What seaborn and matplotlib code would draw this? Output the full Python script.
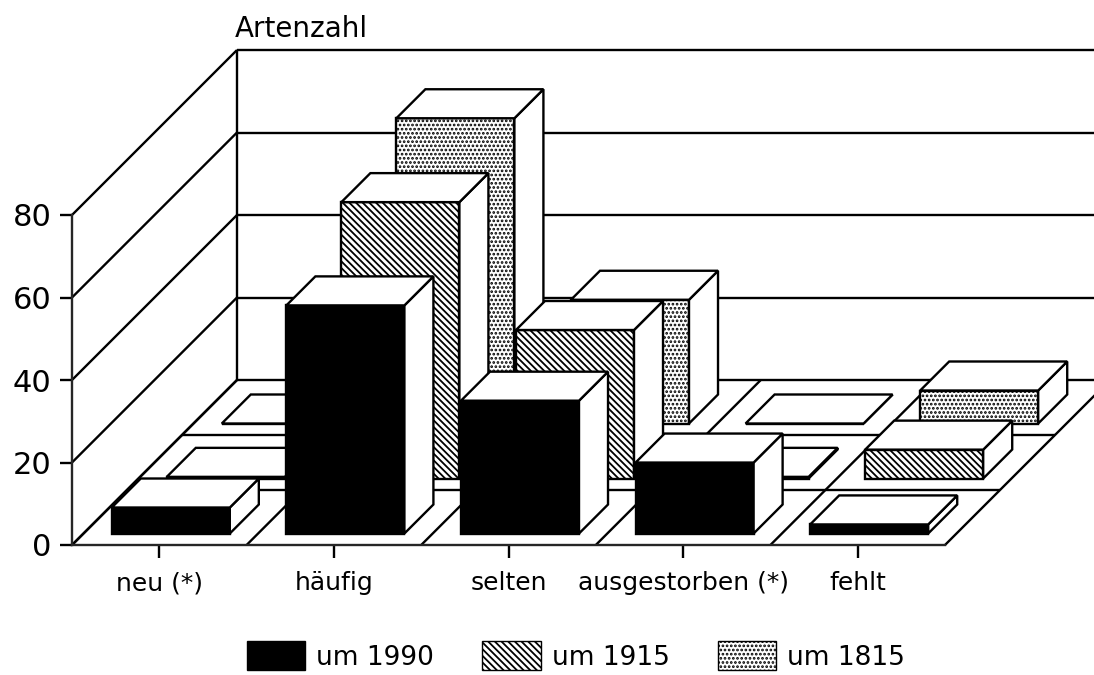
import matplotlib
matplotlib.use("Agg")
import matplotlib.pyplot as plt
from matplotlib.patches import Patch
import seaborn as sns

# Chart data
categories = ["neu (*)", "häufig", "selten", "ausgestorben (*)", "fehlt"]
values_1990 = [6.3, 55.3, 32.2, 17.2, 2.2]
values_1915 = [0.4, 67.0, 36.0, 0.4, 7.0]
values_1815 = [0.0, 74.0, 30.0, 0.0, 8.0]
y_ticks = [0, 20, 40, 60, 80]

# Pseudo 3D geometry, in pixels of the depth direction
PX_PER_CAT = 174.6
PX_PER_VALUE = 4.125
ROW_STEP = 55
ROW_INSET = 11.5
BAR_DEPTH = 29
FLOOR_DEPTH = 165
BAR_WIDTH = 0.676
LW = 1.7
HATCH_LINES = "\\\\\\\\\\"
HATCH_DOTS = "...."


def project(x, value, depth):
    # shift a point back along the 45 degree depth direction
    return x + depth / PX_PER_CAT, value + depth / PX_PER_VALUE


def depth_line(ax, x0, v0, d0, x1, v1, d1):
    p0 = project(x0, v0, d0)
    p1 = project(x1, v1, d1)
    ax.plot([p0[0], p1[0]], [p0[1], p1[1]], color="black", lw=LW, clip_on=False, zorder=1,
            solid_capstyle="butt")


sns.set_theme(style="ticks")
plt.rcParams["font.family"] = ["DejaVu Sans"]
plt.rcParams["hatch.linewidth"] = 1.3
plt.rcParams["axes.linewidth"] = LW

fig = plt.figure(figsize=(10.94, 6.75), dpi=100)
ax = fig.add_axes([72 / 1094, (675 - 545) / 675, 873 / 1094, 330 / 675])
ax.patch.set_alpha(0)

rows = [
    (2, values_1815, "black", "white", HATCH_DOTS),
    (1, values_1915, "black", "white", HATCH_LINES),
    (0, values_1990, "black", "black", None),
]

for row, values, edge, face, hatch in rows:
    n_before = len(ax.patches)
    sns.barplot(x=categories, y=values, color=face, saturation=1, edgecolor=edge, linewidth=LW,
                hatch=hatch, width=BAR_WIDTH, errorbar=None, zorder=5 - row, ax=ax)
    depth = row * ROW_STEP + ROW_INSET
    # move the front faces into their row on the floor, then add top and side
    for bar in ax.patches[n_before:len(ax.patches)]:
        bar.set_x(bar.get_x() + depth / PX_PER_CAT)
        bar.set_y(depth / PX_PER_VALUE)
        bar.set_clip_on(False)
    for i, val in enumerate(values):
        x0 = i - BAR_WIDTH / 2
        x1 = i + BAR_WIDTH / 2
        top = [project(x0, val, depth), project(x1, val, depth),
               project(x1, val, depth + BAR_DEPTH), project(x0, val, depth + BAR_DEPTH)]
        side = [project(x1, 0, depth), project(x1, val, depth),
                project(x1, val, depth + BAR_DEPTH), project(x1, 0, depth + BAR_DEPTH)]
        for poly in (side, top):
            ax.fill([p[0] for p in poly], [p[1] for p in poly], facecolor="white", edgecolor="black",
                    linewidth=LW, clip_on=False, zorder=5 - row)

ax.set_xlim(-0.5, 4.5)
ax.set_ylim(0, 80)

# Back wall, side wall and floor
depth_line(ax, -0.5, 0, FLOOR_DEPTH, -0.5, 80, FLOOR_DEPTH)
for tick in y_ticks:
    depth_line(ax, -0.5, tick, 0, -0.5, tick, FLOOR_DEPTH)
    depth_line(ax, -0.5, tick, FLOOR_DEPTH, 4.5, tick, FLOOR_DEPTH)
for k in range(6):
    depth_line(ax, k - 0.5, 0, 0, k - 0.5, 0, FLOOR_DEPTH)
for row in (1, 2):
    depth_line(ax, -0.5, 0, row * ROW_STEP, 4.5, 0, row * ROW_STEP)

# Axes
sns.despine(ax=ax)
ax.set_yticks(y_ticks)
ax.tick_params(axis="y", length=8.6, width=LW, labelsize=22, pad=6, colors="black")
ax.tick_params(axis="x", length=9, width=LW, labelsize=18, pad=10, colors="black")
ax.set_xlabel("")
ax.set_ylabel("")

title_x, title_v = -0.5 + 163 / PX_PER_CAT, 516 / PX_PER_VALUE
ax.text(title_x, title_v, "Artenzahl", fontsize=20, color="black", ha="left", va="center", clip_on=False)

handles = [
    Patch(facecolor="black", edgecolor="black", label="um 1990"),
    Patch(facecolor="white", edgecolor="black", hatch=HATCH_LINES, label="um 1915"),
    Patch(facecolor="white", edgecolor="black", hatch=HATCH_DOTS, label="um 1815"),
]
fig.legend(handles=handles, loc="center", bbox_to_anchor=(576 / 1094, 1 - 656 / 675), ncol=3,
           frameon=False, fontsize=19, handlelength=2.2, handleheight=1.3, handletextpad=0.42,
           columnspacing=1.85, borderpad=0, labelcolor="black")

fig.savefig("out.png", dpi=100)
